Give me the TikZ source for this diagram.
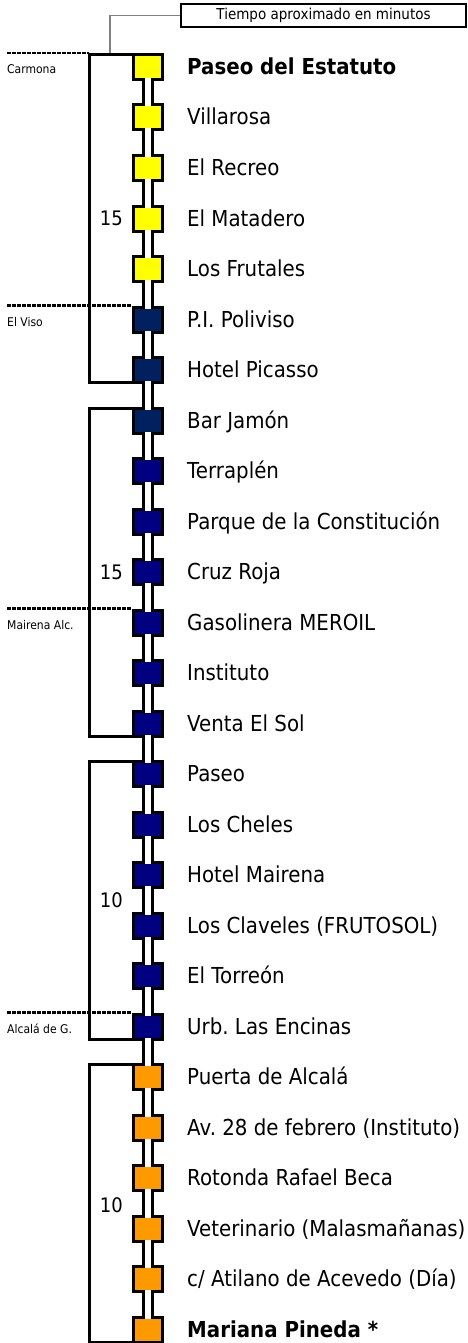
\documentclass[tikz,border=0pt]{standalone}
\usepackage{fontspec}
\setmainfont[FakeStretch=0.9]{DejaVu Sans}
\usetikzlibrary{calc}
\definecolor{stopyellow}{RGB}{255,255,0}
\definecolor{stopdark}{RGB}{0,32,96}
\definecolor{stopnavy}{RGB}{0,0,128}
\definecolor{stoporange}{RGB}{255,153,0}
\definecolor{leadergray}{RGB}{128,128,128}
\frenchspacing
\begin{document}
\begin{tikzpicture}[x=1pt,y=-1pt,
  stopbox/.style={draw=black, line width=3pt, minimum width=29pt, minimum height=25pt, inner sep=0pt, outer sep=1.5pt},
  railline/.style={line width=3pt},
  lbl/.style={anchor=base west, inner sep=0pt, font=\fontsize{22}{26}\selectfont},
  num/.style={anchor=base east, inner sep=0pt, font=\fontsize{20}{24}\selectfont},
  town/.style={anchor=base west, inner sep=0pt, font=\fontsize{12}{14}\selectfont},
  bracket/.style={line width=3pt},
  dots/.style={line width=2.5pt, dash pattern=on 3.5pt off 1.5pt},
  titlebox/.style={draw=black, line width=2pt, minimum width=285pt, minimum height=23pt, inner sep=0pt, font=\fontsize{15}{18}\selectfont},
  leader/.style={draw=leadergray, line width=1.3pt}
]
\useasboundingbox (0,0) rectangle (468,1343);

% stops (positions)
\foreach \i in {0,...,25}{
  \coordinate (c\i) at (147.5,{67+50.5*\i});
}

% brackets
\draw[bracket] ($(c0)+(-14.5,-12.5)$) -- ++(-44,0) |- ($(c6)+(-14.5,12.5)$);
\draw[bracket] ($(c7)+(-14.5,-12.5)$) -- ++(-44,0) |- ($(c13)+(-14.5,12.5)$);
\draw[bracket] ($(c14)+(-14.5,-12.5)$) -- ++(-44,0) |- ($(c19)+(-14.5,12.5)$);
\draw[bracket] ($(c20)+(-14.5,-12.5)$) -- ++(-44,0) |- ($(c25)+(-14.5,12.5)$);

% town boundaries (dotted)
\draw[dots] ($(c0)+(-140.5,-14)$) -- ($(c0)+(-58.5,-14)$);
\draw[dots] ($(c5)+(-140.5,-14)$) -- ($(c5)+(-16,-14)$);
\draw[dots] ($(c11)+(-140.5,-14)$) -- ($(c11)+(-16,-14)$);
\draw[dots] ($(c19)+(-140.5,-14)$) -- ($(c19)+(-16,-14)$);
\node[town] (carmona) at ($(c0)+(-140.5,6.5)$) {Carmona};
\node[town] (elviso) at ($(c5)+(-140.5,6.5)$) {El Viso};
\node[town] (mairena) at ($(c11)+(-140.5,6.5)$) {Mairena Alc.};
\node[town] (alcala) at ($(c19)+(-140.5,6.5)$) {Alcalá de G.};

% stop squares
\foreach \i/\c in {0/stopyellow,1/stopyellow,2/stopyellow,3/stopyellow,4/stopyellow,
  5/stopdark,6/stopdark,7/stopdark,
  8/stopnavy,9/stopnavy,10/stopnavy,11/stopnavy,12/stopnavy,13/stopnavy,14/stopnavy,
  15/stopnavy,16/stopnavy,17/stopnavy,18/stopnavy,19/stopnavy,
  20/stoporange,21/stoporange,22/stoporange,23/stoporange,24/stoporange,25/stoporange}{
  \node[stopbox, fill=\c] (s\i) at (c\i) {};
}

% rail between stops
\foreach \i [count=\j from 1] in {0,...,24}{
  \fill[white] ($(s\i.south)+(-2.5,-3)$) rectangle ($(s\j.north)+(3.5,3)$);
  \draw[railline] ($(s\i.south)+(-4,-3)$) -- ($(s\j.north)+(-4,3)$);
  \draw[railline] ($(s\i.south)+(5,-3)$) -- ($(s\j.north)+(5,3)$);
}

% stop names
\node[lbl] (t0) at ($(s0.center)+(39.5,7.5)$) {\textbf{Paseo del Estatuto}};
\node[lbl] (t1) at ($(s1.center)+(39.5,7.5)$) {Villarosa};
\node[lbl] (t2) at ($(s2.center)+(39.5,7.5)$) {El Recreo};
\node[lbl] (t3) at ($(s3.center)+(39.5,7.5)$) {El Matadero};
\node[lbl] (t4) at ($(s4.center)+(39.5,7.5)$) {Los Frutales};
\node[lbl] (t5) at ($(s5.center)+(39.5,7.5)$) {P.I. Poliviso};
\node[lbl] (t6) at ($(s6.center)+(39.5,7.5)$) {Hotel Picasso};
\node[lbl] (t7) at ($(s7.center)+(39.5,7.5)$) {Bar Jamón};
\node[lbl] (t8) at ($(s8.center)+(39.5,7.5)$) {Terraplén};
\node[lbl] (t9) at ($(s9.center)+(39.5,7.5)$) {Parque de la Constitución};
\node[lbl] (t10) at ($(s10.center)+(39.5,7.5)$) {Cruz Roja};
\node[lbl] (t11) at ($(s11.center)+(39.5,7.5)$) {Gasolinera MEROIL};
\node[lbl] (t12) at ($(s12.center)+(39.5,7.5)$) {Instituto};
\node[lbl] (t13) at ($(s13.center)+(39.5,7.5)$) {Venta El Sol};
\node[lbl] (t14) at ($(s14.center)+(39.5,7.5)$) {Paseo};
\node[lbl] (t15) at ($(s15.center)+(39.5,7.5)$) {Los Cheles};
\node[lbl] (t16) at ($(s16.center)+(39.5,7.5)$) {Hotel Mairena};
\node[lbl] (t17) at ($(s17.center)+(39.5,7.5)$) {Los Claveles (FRUTOSOL)};
\node[lbl] (t18) at ($(s18.center)+(39.5,7.5)$) {El Torreón};
\node[lbl] (t19) at ($(s19.center)+(39.5,7.5)$) {Urb. Las Encinas};
\node[lbl] (t20) at ($(s20.center)+(39.5,7.5)$) {Puerta de Alcalá};
\node[lbl] (t21) at ($(s21.center)+(39.5,7.5)$) {Av. 28 de febrero (Instituto)};
\node[lbl] (t22) at ($(s22.center)+(39.5,7.5)$) {Rotonda Rafael Beca};
\node[lbl] (t23) at ($(s23.center)+(39.5,7.5)$) {Veterinario (Malasmañanas)};
\node[lbl] (t24) at ($(s24.center)+(39.5,7.5)$) {c/ Atilano de Acevedo (Día)};
\node[lbl] (t25) at ($(s25.center)+(39.5,7.5)$) {\textbf{Mariana Pineda *}};

% minutes per section
\node[num] (n1) at ($($(s0.north)!0.5!(s6.south)$)+(-24.5,7.3)$) {15};
\node[num] (n2) at ($($(s7.north)!0.5!(s13.south)$)+(-24.5,7.3)$) {15};
\node[num] (n3) at ($($(s14.north)!0.5!(s19.south)$)+(-24.5,7.3)$) {10};
\node[num] (n4) at ($($(s20.north)!0.5!(s25.south)$)+(-24.5,9)$) {10};

% legend
\node[titlebox] (title) at (323.5,15.5) {Tiempo aproximado en minutos};
\coordinate (legendfoot) at ($(s0.north west)+(-21.5,0)$);
\draw[leader] (title.west) -| (legendfoot);
\end{tikzpicture}
\end{document}
